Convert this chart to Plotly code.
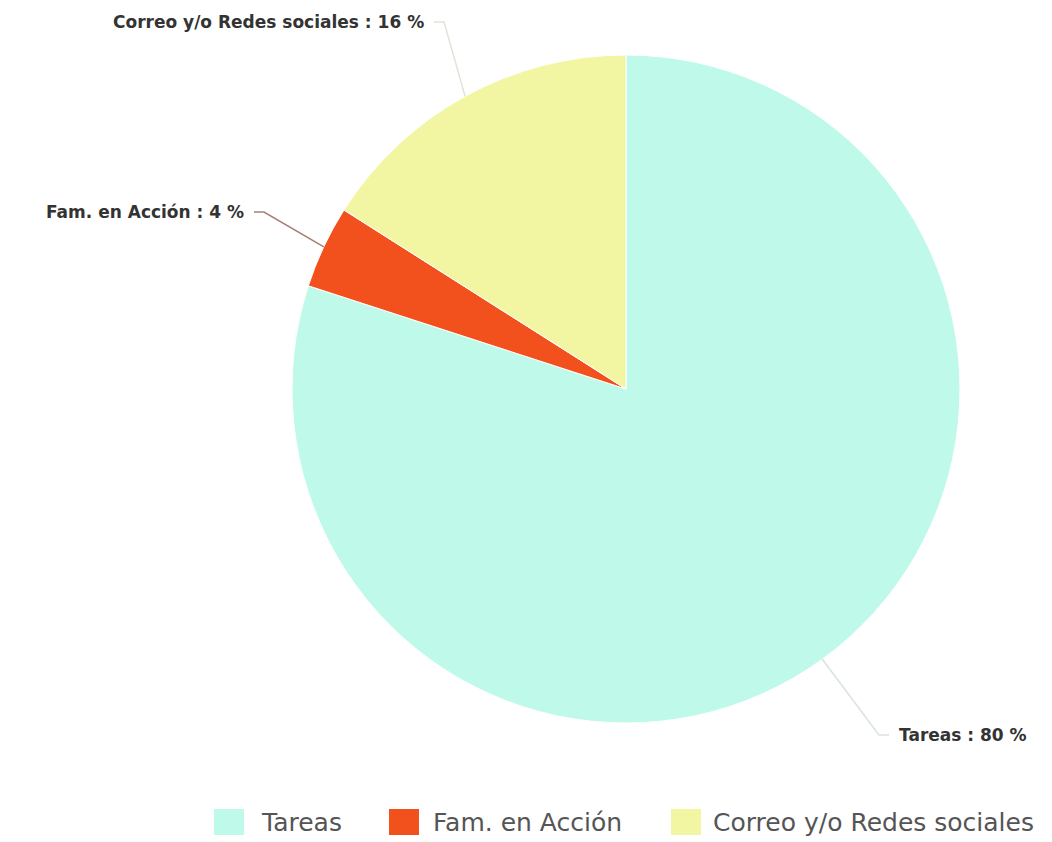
import math
import plotly.graph_objects as go

# Data
labels = ["Tareas", "Fam. en Acción", "Correo y/o Redes sociales"]
values = [80, 4, 16]
colors = ["#bff9ea", "#f2501c", "#f2f6a2"]

W, H = 1052, 842
CX, CY, R = 626, 389, 334  # pie centre and radius, pixels


def px(x):
    return x / W


def py(y):
    return 1 - y / H


# Outside label placement (pixels): anchor point, side, connector colour
label_pos = [
    dict(x=897, y=735, xanchor="left", line="rgba(205,220,215,0.8)"),
    dict(x=246, y=212, xanchor="right", line="rgba(150,105,90,0.85)"),
    dict(x=426, y=22, xanchor="right", line="rgba(222,225,212,0.9)"),
]

fig = go.Figure(
    go.Pie(
        labels=labels,
        values=values,
        sort=False,
        direction="clockwise",
        rotation=0,
        textinfo="none",
        marker=dict(colors=colors, line=dict(color="white", width=1)),
        domain=dict(x=[px(CX - R), px(CX + R)], y=[py(CY + R), py(CY - R)]),
        showlegend=False,
    )
)

total = sum(values)
annotations = []
shapes = []
start = 0.0
for lab, val, pos in zip(labels, values, label_pos):
    mid = (start + val / 2) / total
    start += val
    ang = 2 * math.pi * mid
    ex = CX + R * math.sin(ang)
    ey = CY - R * math.cos(ang)
    pct = round(100 * val / total)
    annotations.append(
        dict(
            x=px(pos["x"]), y=py(pos["y"]), xref="paper", yref="paper",
            xanchor=pos["xanchor"], yanchor="middle", showarrow=False,
            text=f"<b>{lab} : {pct} %</b>",
            font=dict(family="DejaVu Sans", size=17, color="#333333"),
        )
    )
    # connector from label end to the slice edge at its mid angle
    side = 1 if pos["xanchor"] == "right" else -1
    lx = pos["x"] + 8 * side
    bx = lx + 10 * side
    shapes.append(
        dict(
            type="path", xref="paper", yref="paper",
            path=f"M{px(lx)},{py(pos['y'])} L{px(bx)},{py(pos['y'])} L{px(ex)},{py(ey)}",
            line=dict(color=pos["line"], width=1.5),
        )
    )

# Legend row along the bottom
legend_marker_x = [214, 389, 671]
legend_text_x = [259, 431, 711]
LY = 822
for lab, col, mx, tx in zip(labels, colors, legend_marker_x, legend_text_x):
    shapes.append(
        dict(
            type="rect", xref="paper", yref="paper",
            x0=px(mx), x1=px(mx + 30), y0=py(LY + 13), y1=py(LY - 13),
            fillcolor=col, line=dict(width=0),
        )
    )
    annotations.append(
        dict(
            x=px(tx), y=py(LY), xref="paper", yref="paper",
            xanchor="left", yanchor="middle", showarrow=False,
            text=lab, font=dict(family="DejaVu Sans", size=25, color="#555555"),
        )
    )

fig.update_layout(
    width=W, height=H,
    margin=dict(l=0, r=0, t=0, b=0),
    paper_bgcolor="white",
    plot_bgcolor="white",
    annotations=annotations,
    shapes=shapes,
)

fig.write_html("out.html")
